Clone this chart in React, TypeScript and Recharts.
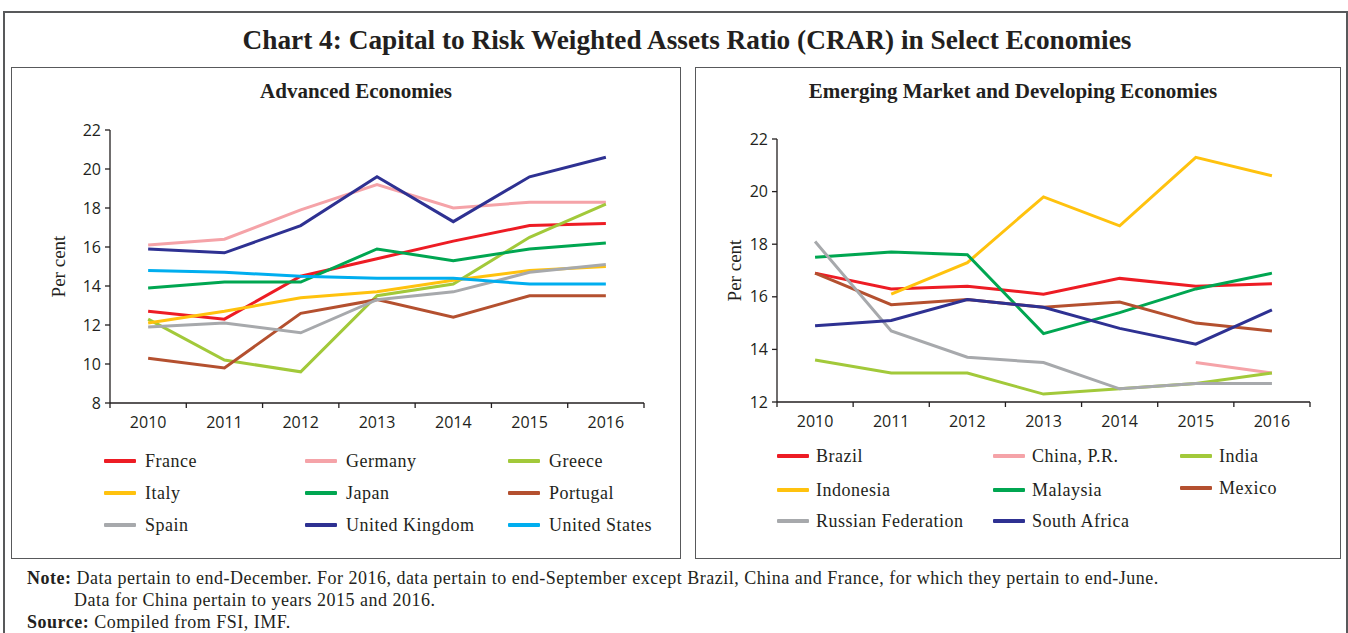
import React from 'react';
import { LineChart, Line, XAxis, YAxis } from 'recharts';

// categories
const years = ['2010', '2011', '2012', '2013', '2014', '2015', '2016'];

// Advanced economies (per cent)
const france = [12.7, 12.3, 14.5, 15.4, 16.3, 17.1, 17.2];
const germany = [16.1, 16.4, 17.9, 19.2, 18.0, 18.3, 18.3];
const greece = [12.3, 10.2, 9.6, 13.5, 14.1, 16.5, 18.2];
const italy = [12.1, 12.7, 13.4, 13.7, 14.3, 14.8, 15.0];
const japan = [13.9, 14.2, 14.2, 15.9, 15.3, 15.9, 16.2];
const portugal = [10.3, 9.8, 12.6, 13.3, 12.4, 13.5, 13.5];
const spain = [11.9, 12.1, 11.6, 13.3, 13.7, 14.7, 15.1];
const unitedKingdom = [15.9, 15.7, 17.1, 19.6, 17.3, 19.6, 20.6];
const unitedStates = [14.8, 14.7, 14.5, 14.4, 14.4, 14.1, 14.1];

// Emerging market and developing economies (per cent)
const brazil = [16.9, 16.3, 16.4, 16.1, 16.7, 16.4, 16.5];
const china = [null, null, null, null, null, 13.5, 13.1];
const india = [13.6, 13.1, 13.1, 12.3, 12.5, 12.7, 13.1];
const indonesia = [null, 16.1, 17.3, 19.8, 18.7, 21.3, 20.6];
const malaysia = [17.5, 17.7, 17.6, 14.6, 15.4, 16.3, 16.9];
const mexico = [16.9, 15.7, 15.9, 15.6, 15.8, 15.0, 14.7];
const russia = [18.1, 14.7, 13.7, 13.5, 12.5, 12.7, 12.7];
const southAfrica = [14.9, 15.1, 15.9, 15.6, 14.8, 14.2, 15.5];

const advTicks = [8, 10, 12, 14, 16, 18, 20, 22];
const emTicks = [12, 14, 16, 18, 20, 22];

type Series = { name: string; values: (number | null)[] };

const advancedSeries: Series[] = [
  { name: 'France', values: france },
  { name: 'Germany', values: germany },
  { name: 'Greece', values: greece },
  { name: 'Italy', values: italy },
  { name: 'Japan', values: japan },
  { name: 'Portugal', values: portugal },
  { name: 'Spain', values: spain },
  { name: 'United Kingdom', values: unitedKingdom },
  { name: 'United States', values: unitedStates },
];

const emergingSeries: Series[] = [
  { name: 'Brazil', values: brazil },
  { name: 'China, P.R.', values: china },
  { name: 'India', values: india },
  { name: 'Indonesia', values: indonesia },
  { name: 'Malaysia', values: malaysia },
  { name: 'Mexico', values: mexico },
  { name: 'Russian Federation', values: russia },
  { name: 'South Africa', values: southAfrica },
];

const colors: Record<string, string> = {
  France: '#ed1c24',
  Germany: '#f5a3a8',
  Greece: '#a2c93a',
  Italy: '#ffc20e',
  Japan: '#00a651',
  Portugal: '#b4502f',
  Spain: '#a7a9ac',
  'United Kingdom': '#2e3192',
  'United States': '#00aeef',
  Brazil: '#ed1c24',
  'China, P.R.': '#f5a3a8',
  India: '#a2c93a',
  Indonesia: '#ffc20e',
  Malaysia: '#00a651',
  Mexico: '#b4502f',
  'Russian Federation': '#a7a9ac',
  'South Africa': '#2e3192',
};

const INK = '#231f20';
const SERIF = '"Liberation Serif", "Times New Roman", serif';
const SANS = '"Open Sans", "DejaVu Sans", sans-serif';

function buildTable(series: Series[]) {
  return years.map((year, i) => {
    const row: Record<string, number | string | null> = { x: i + 0.5, year };
    series.forEach((s) => {
      row[s.name] = s.values[i];
    });
    return row;
  });
}

// tick marks sit between the years, labels in the middle of each band
const xTicks = years.flatMap((_, i) => [i, i + 0.5]).concat(years.length);

const YearTick = (props: any) => {
  const { x, y, payload } = props;
  const v = payload.value as number;
  if (Number.isInteger(v)) {
    return <line x1={x} x2={x} y1={y - 5} y2={y} stroke={INK} strokeWidth={1.3} />;
  }
  return (
    <text x={x} y={y + 20} textAnchor="middle" fill={INK} fontSize={16} fontFamily={SANS}>
      {years[v - 0.5]}
    </text>
  );
};

interface PanelProps {
  series: Series[];
  yTicks: number[];
  width: number;
  height: number;
  margin: { top: number; right: number; bottom: number; left: number };
  labelShift: number;
}

function Panel({ series, yTicks, width, height, margin, labelShift }: PanelProps) {
  const data = buildTable(series);
  return (
    <LineChart width={width} height={height} data={data} margin={margin}>
      <XAxis
        type="number"
        dataKey="x"
        domain={[0, years.length]}
        ticks={xTicks}
        interval={0}
        tick={<YearTick />}
        tickLine={false}
        tickSize={5}
        tickMargin={0}
        height={30}
        axisLine={{ stroke: INK, strokeWidth: 1.3 }}
      />
      <YAxis
        type="number"
        domain={[yTicks[0], yTicks[yTicks.length - 1]]}
        ticks={yTicks}
        interval={0}
        width={50}
        tickSize={5}
        tickMargin={4}
        tick={{ fill: INK, fontSize: 16, fontFamily: SANS }}
        tickLine={{ stroke: INK, strokeWidth: 1.3 }}
        axisLine={{ stroke: INK, strokeWidth: 1.3 }}
        label={({ viewBox }: any) => {
          const cx = viewBox.x + labelShift;
          const cy = viewBox.y + viewBox.height / 2;
          return (
            <text
              x={cx}
              y={cy}
              transform={`rotate(-90, ${cx}, ${cy})`}
              textAnchor="middle"
              dominantBaseline="central"
              fill={INK}
              fontSize={19}
              fontFamily={SERIF}
            >
              Per cent
            </text>
          );
        }}
      />
      {series.map((s) => (
        <Line
          key={s.name}
          type="linear"
          dataKey={s.name}
          stroke={colors[s.name]}
          strokeWidth={3}
          dot={false}
          activeDot={false}
          connectNulls={false}
          isAnimationActive={false}
        />
      ))}
    </LineChart>
  );
}

function LegendEntry({ name, left, top, lineW, gap }: { name: string; left: number; top: number; lineW: number; gap: number }) {
  return (
    <div style={{ position: 'absolute', left, top, height: 20, display: 'flex', alignItems: 'center' }}>
      <div style={{ width: lineW, height: 3.5, backgroundColor: colors[name], borderRadius: 1 }} />
      <span style={{ marginLeft: gap, fontFamily: SERIF, fontSize: 18, letterSpacing: 0.5, color: INK, whiteSpace: 'nowrap' }}>{name}</span>
    </div>
  );
}

const advLegendCols = [104, 305, 508];
const advLegendRows = [451, 483, 515];
const emLegendCols = [777, 993, 1180];
const emLegendRows = [446, 480, 511];

const titleStyle: React.CSSProperties = {
  position: 'absolute',
  top: 79,
  width: 600,
  textAlign: 'center',
  fontFamily: SERIF,
  fontWeight: 'bold',
  fontSize: 21,
  color: INK,
};

export default function App() {
  return (
    <div style={{ position: 'absolute', left: 0, top: 0, width: 1348, height: 633, background: '#fff', overflow: 'hidden' }}>
      {/* outer frame */}
      <div style={{ position: 'absolute', left: 3, top: 11, width: 1341, height: 640, borderLeft: '2px solid #58595b', borderTop: '2px solid #58595b', borderRight: '2px solid #58595b' }} />
      <div style={{ position: 'absolute', left: 0, width: 1374, top: 25, textAlign: 'center', fontFamily: SERIF, fontWeight: 'bold', fontSize: 27.3, color: INK }}>
        Chart 4: Capital to Risk Weighted Assets Ratio (CRAR) in Select Economies
      </div>

      {/* left panel */}
      <div style={{ position: 'absolute', left: 11, top: 67, width: 668, height: 490, border: '1.5px solid #58595b' }} />
      <div style={{ ...titleStyle, left: 356 - 300 }}>Advanced Economies</div>
      <div style={{ position: 'absolute', left: 11, top: 68 }}>
        <Panel
          series={advancedSeries}
          yTicks={advTicks}
          width={670}
          height={490}
          margin={{ top: 62, right: 37, bottom: 125, left: 49 }}
          labelShift={-2}
        />
      </div>
      {advancedSeries.map((s, i) => (
        <LegendEntry key={s.name} name={s.name} left={advLegendCols[i % 3]} top={advLegendRows[Math.floor(i / 3)]} lineW={32} gap={9} />
      ))}

      {/* right panel */}
      <div style={{ position: 'absolute', left: 695, top: 67, width: 644, height: 490, border: '1.5px solid #58595b' }} />
      <div style={{ ...titleStyle, left: 1013 - 300 }}>Emerging Market and Developing Economies</div>
      <div style={{ position: 'absolute', left: 695, top: 68 }}>
        <Panel
          series={emergingSeries}
          yTicks={emTicks}
          width={646}
          height={490}
          margin={{ top: 71, right: 31, bottom: 126, left: 32 }}
          labelShift={7}
        />
      </div>
      {emergingSeries.map((s, i) => (
        <LegendEntry
          key={s.name}
          name={s.name}
          left={emLegendCols[i % 3]}
          top={s.name === 'Mexico' ? emLegendRows[1] - 2 : emLegendRows[Math.floor(i / 3)]}
          lineW={32}
          gap={7}
        />
      ))}

      {/* notes */}
      <div style={{ position: 'absolute', left: 27, top: 567, fontFamily: SERIF, fontSize: 18, letterSpacing: 0.5, color: INK, lineHeight: '22px', whiteSpace: 'nowrap' }}>
        <div>
          <b>Note:</b> Data pertain to end-December. For 2016, data pertain to end-September except Brazil, China and France, for which they pertain to end-June.
        </div>
        <div style={{ paddingLeft: 47 }}>Data for China pertain to years 2015 and 2016.</div>
        <div>
          <b>Source:</b> Compiled from FSI, IMF.
        </div>
      </div>
    </div>
  );
}
